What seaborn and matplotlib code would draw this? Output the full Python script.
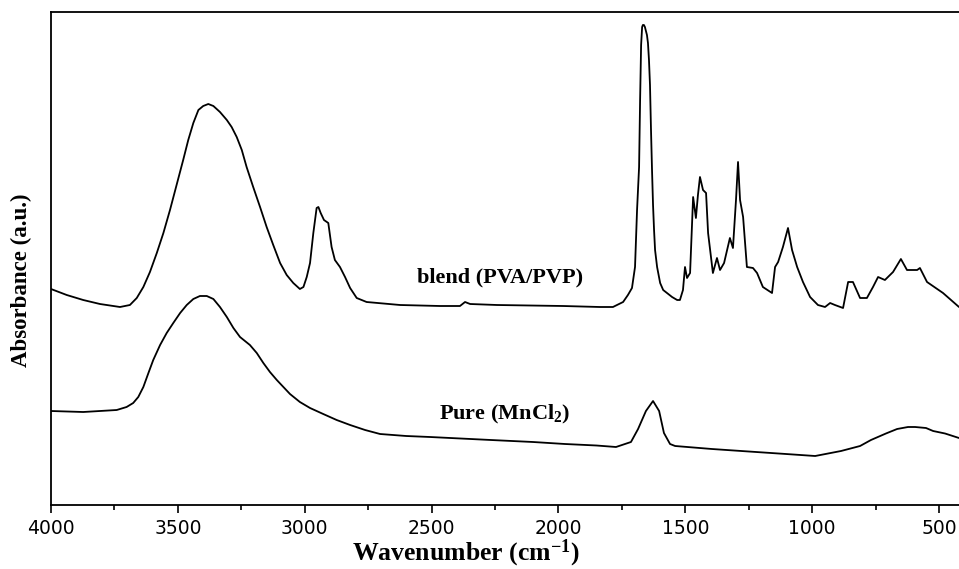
import matplotlib
matplotlib.use("Agg")
import matplotlib.pyplot as plt
import seaborn as sns
import pandas as pd
from matplotlib.ticker import MultipleLocator

# ---- data ----
blend_wn = [4000, 3938, 3873, 3807, 3728, 3689, 3662, 3636, 3610, 3583, 3557, 3531, 3505, 3479,
            3459, 3439, 3419, 3400, 3380, 3360, 3334, 3307, 3288, 3268, 3248, 3229, 3203, 3176,
            3150, 3124, 3097, 3071, 3045, 3019, 3005, 2992, 2979, 2966, 2953, 2946, 2937, 2924,
            2907, 2894, 2881, 2861, 2841, 2821, 2795, 2756, 2624, 2467, 2388, 2368, 2348, 2242,
            1982, 1836, 1785, 1745, 1726, 1710, 1698, 1690, 1682, 1678, 1674, 1670, 1667, 1663,
            1659, 1655, 1651, 1647, 1643, 1639, 1635, 1631, 1627, 1623, 1619, 1611, 1599, 1587,
            1572, 1552, 1532, 1521, 1509, 1501, 1493, 1481, 1469, 1458, 1450, 1442, 1430, 1418,
            1410, 1391, 1375, 1363, 1347, 1324, 1312, 1300, 1292, 1284, 1272, 1257, 1233, 1217,
            1194, 1158, 1146, 1134, 1115, 1095, 1079, 1059, 1036, 1008, 977, 949, 929, 910, 878,
            858, 839, 811, 784, 760, 740, 713, 681, 650, 626, 586, 575, 547, 484, 421]
blend_abs = [2.16, 2.10, 2.05, 2.01, 1.98, 2.00, 2.07, 2.18, 2.33, 2.52, 2.72, 2.95, 3.20, 3.45,
             3.65, 3.82, 3.95, 3.99, 4.01, 3.99, 3.93, 3.85, 3.78, 3.68, 3.55, 3.38, 3.18, 2.98,
             2.78, 2.60, 2.42, 2.30, 2.22, 2.16, 2.18, 2.28, 2.42, 2.72, 2.97, 2.98, 2.92, 2.85,
             2.82, 2.58, 2.45, 2.38, 2.28, 2.17, 2.07, 2.03, 2.00, 1.99, 1.99, 2.03, 2.01, 2.00,
             1.99, 1.98, 1.98, 2.03, 2.10, 2.17, 2.38, 2.95, 3.38, 4.05, 4.60, 4.78, 4.80, 4.80,
             4.78, 4.74, 4.70, 4.62, 4.45, 4.20, 3.75, 3.35, 3.00, 2.75, 2.55, 2.38, 2.22, 2.15,
             2.12, 2.08, 2.05, 2.05, 2.15, 2.38, 2.27, 2.32, 3.08, 2.87, 3.10, 3.28, 3.15, 3.12,
             2.72, 2.32, 2.47, 2.35, 2.42, 2.67, 2.57, 3.05, 3.43, 3.05, 2.88, 2.38, 2.37, 2.32,
             2.18, 2.12, 2.38, 2.43, 2.58, 2.77, 2.55, 2.38, 2.23, 2.08, 2.00, 1.98, 2.02, 2.00, 1.97,
             2.23, 2.23, 2.07, 2.07, 2.18, 2.28, 2.25, 2.33, 2.46, 2.35, 2.35, 2.37, 2.23, 2.12, 1.98]

pure_wn = [4000, 3873, 3741, 3702, 3676, 3656, 3636, 3616, 3597, 3570, 3544, 3518, 3491, 3465,
           3439, 3413, 3386, 3360, 3334, 3307, 3281, 3255, 3216, 3189, 3163, 3137, 3110, 3084,
           3058, 3019, 2979, 2927, 2874, 2821, 2762, 2703, 2600, 2506, 2266, 2100, 1974, 1850,
           1773, 1714, 1686, 1655, 1627, 1603, 1584, 1560, 1540, 1395, 1250, 1103, 988, 886,
           811, 768, 709, 665, 622, 594, 551, 523, 476, 421]
pure_abs = [0.94, 0.93, 0.95, 0.98, 1.02, 1.08, 1.18, 1.32, 1.45, 1.60, 1.72, 1.82, 1.92, 2.00,
            2.06, 2.09, 2.09, 2.06, 1.98, 1.88, 1.77, 1.68, 1.60, 1.52, 1.42, 1.33, 1.25, 1.18,
            1.11, 1.03, 0.97, 0.91, 0.85, 0.80, 0.75, 0.71, 0.69, 0.68, 0.65, 0.63, 0.61, 0.595,
            0.58, 0.63, 0.76, 0.94, 1.04, 0.94, 0.72, 0.61, 0.59, 0.56, 0.535, 0.51, 0.49, 0.54,
            0.59, 0.65, 0.715, 0.76, 0.78, 0.78, 0.77, 0.74, 0.715, 0.67]

labels = ["blend (PVA/PVP)", r"Pure (MnCl$_2$)"]
label_pos = [(2230, 2.28), (2210, 0.91)]
xticks = [4000, 3500, 3000, 2500, 2000, 1500, 1000, 500]

df = pd.concat([
    pd.DataFrame({"wn": blend_wn, "A": blend_abs, "sample": "blend"}),
    pd.DataFrame({"wn": pure_wn, "A": pure_abs, "sample": "pure"}),
])

sns.set_theme(style="ticks")
plt.rcParams["font.family"] = ["DejaVu Sans"]
plt.rcParams["text.color"] = "black"
plt.rcParams["axes.labelcolor"] = "black"
plt.rcParams["xtick.color"] = "black"
plt.rcParams["mathtext.fontset"] = "custom"
plt.rcParams["mathtext.rm"] = "Liberation Serif:bold"
plt.rcParams["mathtext.it"] = "Liberation Serif:bold"
plt.rcParams["mathtext.bf"] = "Liberation Serif:bold"

fig = plt.figure(figsize=(9.59, 5.69), dpi=100)
ax = fig.add_axes([51 / 959, 1 - 505 / 569, 1 - 51 / 959, (505 - 12) / 569])

sns.lineplot(data=df, x="wn", y="A", units="sample", estimator=None, color="black",
             linewidth=1.3, sort=False, ax=ax, legend=False)

ax.set_xlim(4000, 421)
ax.set_ylim(0, 4.93)
ax.set_xticks(xticks)
ax.set_xticklabels([str(t) for t in xticks])
ax.xaxis.set_minor_locator(MultipleLocator(250))
ax.set_yticks([])
ax.tick_params(axis="x", which="major", direction="out", length=6, width=1.2,
               labelsize=13.5, pad=4, colors="black")
ax.tick_params(axis="x", which="minor", direction="out", length=3.5, width=1.2, colors="black")
for s in ["left", "bottom", "top"]:
    ax.spines[s].set_linewidth(1.3)
    ax.spines[s].set_color("black")
ax.spines["right"].set_visible(False)

ax.set_xlabel(r"Wavenumber (cm$^{-1}$)", family="Liberation Serif", fontweight="bold",
              fontsize=18.5, color="black")
ax.xaxis.set_label_coords(0.457, -0.066)
ax.set_ylabel("Absorbance (a.u.)", family="Liberation Serif", fontweight="bold",
              fontsize=16.5, color="black")
ax.yaxis.set_label_coords(-0.021, 0.456)

for lab, (x, y) in zip(labels, label_pos):
    ax.text(x, y, lab, family="Liberation Serif", fontweight="bold", fontsize=16,
            ha="center", va="center", color="black")

fig.savefig("out.png", dpi=100)
